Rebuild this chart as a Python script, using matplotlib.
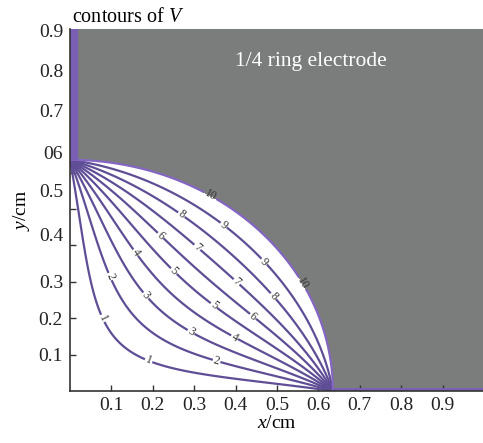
import numpy as np
import matplotlib
matplotlib.use("Agg")
import matplotlib.pyplot as plt

plt.rcParams['font.family'] = ['Liberation Serif', 'DejaVu Serif']
plt.rcParams['mathtext.fontset'] = 'custom'
plt.rcParams['mathtext.rm'] = 'Liberation Serif'
plt.rcParams['mathtext.it'] = 'Liberation Serif:italic'

# quarter ring electrode
ring_radius = 0.635   # cm
ring_voltage = 10
levels = [1, 2, 3, 4, 5, 6, 7, 8, 9, 10]

# where the contour labels sit (two per level)
label_points = [
    (0.078, 0.199), (0.187, 0.075),
    (0.090, 0.311), (0.353, 0.078),
    (0.191, 0.270), (0.292, 0.161),
    (0.155, 0.377), (0.396, 0.144),
    (0.247, 0.325), (0.348, 0.235),
    (0.215, 0.422), (0.440, 0.202),
    (0.307, 0.394), (0.401, 0.298),
    (0.271, 0.487), (0.488, 0.257),
    (0.367, 0.449), (0.464, 0.350),
    (0.336, 0.531), (0.565, 0.298),
]

xticks = [0.1, 0.2, 0.3, 0.4, 0.5, 0.6, 0.7, 0.8, 0.9]
xtick_labels = ['0.1', '0.2', '0.3', '0.4', '0.5', '0.6', '0.7', '0.8', '0.9']
yticks = [0.1, 0.2, 0.3, 0.4, 0.5, 0.6, 0.7, 0.8, 0.9]
ytick_labels = ['0.1', '0.2', '0.3', '0.4', '0.5', '06', '0.7', '0.8', '0.9']
# the labels in the figure are drifted upward from their ticks
ytick_label_pos = [0.1, 0.2, 0.3, 0.43, 0.55, 0.655, 0.77, 0.88, 0.99]

# potential: V = 0 on both axes, V = ring_voltage on r = R
x = np.linspace(0, 1, 801)
y = np.linspace(0, 1, 801)
X, Y = np.meshgrid(x, y)
rho = (np.hypot(X, Y) / ring_radius) ** 2
phi = 2 * np.arctan2(Y, X)
V = 2 * ring_voltage / np.pi * np.arctan2(2 * rho * np.sin(phi), 1 - rho ** 2)

fig = plt.figure(figsize=(4.83, 4.43), dpi=100)
ax = fig.add_axes([70 / 483, 52 / 443, 414 / 483, 362 / 443])

ax.contourf(X, Y, V, levels=[ring_voltage, 2 * ring_voltage + 1], colors=['#7b7d7d'])

line_colors = ['#5f4e96'] * (len(levels) - 1) + ['#8466c2']
cs = ax.contour(X, Y, V, levels=levels, colors=line_colors, linewidths=1.6)
ax.clabel(cs, manual=label_points, inline=True, inline_spacing=1,
          fontsize=8.5, fmt='%d', colors='#333333')

# electrode edges along the axes
ax.plot([0, 0], [ring_radius, 1], color='#7a5fb5', lw=11, solid_capstyle='butt')
ax.plot([ring_radius, 1], [0, 0], color='#7a5fb5', lw=5, solid_capstyle='butt')

ax.text(0.583, 0.905, '1/4 ring electrode', color='white', fontsize=15.5,
        ha='center', va='center')
ax.text(0.005, 1.006, 'contours of $V$', transform=ax.transAxes,
        fontsize=14.5, ha='left', va='bottom')

ax.set_xlim(0, 1)
ax.set_ylim(0, 362 / 364)

ax.set_xticks(xticks)
ax.set_xticklabels(xtick_labels)
ax.set_yticks(yticks)
ax.set_yticklabels([])
ax.yaxis.remove_overlapping_locs = False
ax.set_yticks(ytick_label_pos, minor=True)
ax.set_yticklabels(ytick_labels, minor=True)
ax.tick_params(axis='both', which='major', direction='in', length=4, width=1,
               colors='#333333', labelsize=14, labelcolor='#222222', pad=4)
ax.tick_params(axis='y', which='minor', length=0, labelsize=14,
               labelcolor='#222222', pad=5)

ax.set_xlabel('$x$/cm', fontsize=14, labelpad=1)
ax.set_ylabel('$y$/cm', fontsize=14, labelpad=5)

for side in ['top', 'right']:
    ax.spines[side].set_visible(False)
for side in ['left', 'bottom']:
    ax.spines[side].set_color('#333333')
    ax.spines[side].set_linewidth(1.2)

fig.savefig('out.png', dpi=100)
